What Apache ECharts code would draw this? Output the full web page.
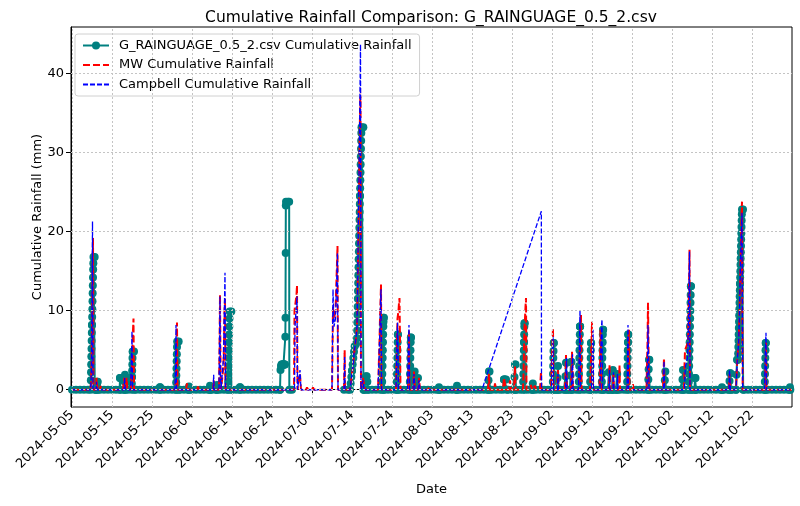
<!DOCTYPE html>
<html>
<head>
<meta charset="utf-8">
<script src="https://cdn.jsdelivr.net/npm/echarts@6/dist/echarts.min.js"></script>
<style>
  html, body { margin: 0; padding: 0; background: #fff; }
  #chart { width: 800px; height: 506px; }
</style>
</head>
<body>
<div id="chart"></div>
<script>
// tick labels
const dateTicks = ['2024-05-05', '2024-05-15', '2024-05-25', '2024-06-04', '2024-06-14', '2024-06-24',
  '2024-07-04', '2024-07-14', '2024-07-24', '2024-08-03', '2024-08-13', '2024-08-23',
  '2024-09-02', '2024-09-12', '2024-09-22', '2024-10-02', '2024-10-12', '2024-10-22'];
const yTicks = [0, 10, 20, 30, 40];

// gauge reading at 00:00 of each day (null = no data)
const gaugeMay = [0, 0, 0, 0, 0, 8.2, 0, 0, 0, 0, 0, 0, 1.5, 0, 0, 1.6, 0, 0, 0, 0, 0, 0, 0.3, 0, 0, 0, 0]; // from 05-05
const gaugeJun = [0, 0, 0, 0, 0, 0, 0, 0, 0, 0, 0, 0, 0, 0, 0, 0.3, 0, 0, 0, 0, 0, 0, 0, 0, 0, 0, 3.2, 23.8, 0, null];
const gaugeJul = [null, null, null, null, null, null, null, null, null, null, null, 0, 0, 2.4, 5.8, 24.5,
  0, 0, 0, 0, 0, 0, 0, 0, 0, 0, 0, 0, 0, 0, 0];
const gaugeAug = [0, 0, 0, 0, 0, 0, 0, 0, 0, 0, 0, 0, 0, 0, 0, 0, 0, 0, 0, 0, 1.3, 0, 0, 0, 0, 6, 0, 0, 0, 0, 0];
const gaugeSep = [0, 0, 0, 0, 0, 0, 0, 0, 8, 0, 0, 0, 0, 0, 0, 0, 0, 0, 0, 0, 6, 0, 0, 0, 0, 0, 0, 0, 0, 0];
const gaugeOct = [0, 0, 0, 0, 0, 0, 0, 0, 0, 0, 0, 0, 0, 0, 0, 0, 0, 0, 13.4, 0, 0, 0, 0, 0, 0, 0, 0, 0, 0, 0, 0];

// readings during events: [start 'MM-DD HH', step in hours, values]
const gaugeRuns = [
  ['05-09 16', 1, [0, 1.2, 2.2, 3.2, 4.2, 5.2, 6.2, 7.2, 8.2, 9.2, 10.2, 11.2, 12.2, 13.2, 14.2, 15.2, 16, 16.8]],
  ['05-10 16', 1, [16.8, 0]],
  ['05-11 04', 2, [0, 0.6, 1, 1, 0]],
  ['05-16 22', 2, [0, 1.5, 0]],
  ['05-18 02', 2, [0, 1, 1.9, 1.2, 0]],
  ['05-19 22', 1, [0, 0.8, 1.6, 2.4, 3.2, 4, 4.8, 4.85]],
  ['05-20 12', 1, [4.85, 0]],
  ['05-26 22', 2, [0, 0.3, 0]],
  ['05-31 00', 1, [0, 0.9, 1.8, 2.7, 3.6, 4.5, 5.4, 6.1]],
  ['05-31 16', 1, [6.1, 0]],
  ['06-03 04', 2, [0, 0.4, 0]],
  ['06-08 10', 2, [0, 0.5, 0]],
  ['06-10 04', 2, [0, 0.6, 0]],
  ['06-13 00', 1, [0, 1, 2, 3, 4, 5, 6, 7, 8, 9, 9.9]],
  ['06-13 20', 1, [9.9, 0]],
  ['06-15 22', 2, [0, 0.3, 0]],
  ['06-26 00', 3, [0, 2.5, 3, 3.2, 3.2, 3.2, 3.2, 3.2, 3.2, 3.2, 3.2]],
  ['06-27 08', 1, [6.7, 9.1, 17.3, 23.3, 23.8]],
  ['06-28 07', 1, [23.8, 0]],
  ['07-13 12', 4, [0, 0.8, 1.6, 2.4, 3.2, 4, 4.8, 5.5]],
  ['07-15 06', 1, [6.5, 7.5, 8.5, 9.5, 10.5, 11.5, 12.5, 13.5, 14.5, 15.5, 16.5, 17.5, 18.5, 19.5,
    20.5, 21.5, 22.5, 23.5, 24.5, 25.5, 26.5, 27.5, 28.5, 29.5, 30.5, 31.5, 32.5, 33.2]],
  ['07-16 20', 1, [33.2, 0]],
  ['07-17 04', 4, [0, 1, 1.7, 1.7, 1, 0]],
  ['07-21 12', 1, [0, 1, 2, 3, 4, 5, 6, 7, 8, 8.6, 9.1, 9.1, 0]],
  ['07-25 04', 1, [0, 1, 2, 3, 4, 5, 6, 7, 7, 0]],
  ['07-28 10', 1, [0, 1, 2, 3, 4, 5, 6, 6.6, 6.6, 0]],
  ['07-29 08', 4, [0, 1.5, 2.3, 0]],
  ['07-30 08', 4, [0, 1.5, 0]],
  ['08-04 16', 2, [0, 0.3, 0]],
  ['08-09 04', 2, [0, 0.5, 0]],
  ['08-17 00', 3, [0, 1.2, 2.3, 2.3, 0]],
  ['08-20 18', 6, [0, 1.3, 1.3, 1.3, 0]],
  ['08-23 12', 3, [0, 1.6, 3.2, 3.2, 0]],
  ['08-25 18', 1, [0, 1, 2, 3, 4, 5, 6, 7, 8, 8.4, 8.4, 0]],
  ['08-28 02', 3, [0, 0.8, 0]],
  ['09-02 04', 1, [0, 1, 2, 3, 4, 4.9, 5.9, 5.9, 0]],
  ['09-03 06', 3, [0, 1.5, 3, 0]],
  ['09-05 06', 3, [0, 1.7, 3.4, 3.4, 0]],
  ['09-06 12', 3, [0, 1.8, 3.5, 3.5, 0]],
  ['09-08 16', 1, [0, 1, 2, 3, 4, 5, 6, 7, 8, 8, 0]],
  ['09-11 12', 1, [0, 1, 2, 3, 4, 5, 5.9, 5.9, 0]],
  ['09-14 10', 1, [0, 1, 2, 3, 4, 5, 6, 7, 7.6, 7.6, 0]],
  ['09-16 02', 3, [0, 2.2, 0]],
  ['09-17 02', 3, [0, 2.5, 0]],
  ['09-18 04', 3, [0, 2, 0]],
  ['09-20 18', 1, [0, 1, 2, 3, 4, 5, 6, 7, 7, 0]],
  ['09-26 00', 2, [0, 1.3, 2.6, 3.8, 3.8, 0]],
  ['09-30 02', 3, [0, 1.2, 2.3, 0]],
  ['10-04 12', 3, [0, 1.3, 2.5, 0]],
  ['10-06 04', 1, [0, 1, 2, 3, 4, 5, 6, 7, 8, 9, 10, 11, 12, 13.1, 13.1, 0]],
  ['10-07 15', 3, [0, 1.5, 1.5, 0]],
  ['10-14 10', 2, [0, 0.3, 0]],
  ['10-16 06', 3, [0, 1.1, 2.1, 2.1, 0]],
  ['10-18 00', 3, [0, 1.9, 3.8, 3.8, 3.8]],
  ['10-18 13', 1, [4.6, 5.4, 6.2, 7, 7.8, 8.6, 9.4, 10.2, 11, 11.8, 12.6, 13.4, 14.2, 15, 15.8, 16.6,
    17.4, 18.2, 19, 19.8, 20.6, 21.4, 22.2, 22.8]],
  ['10-19 18', 1, [22.8, 0]],
  ['10-25 04', 1, [0, 1, 2, 3, 4, 5, 5.9, 5.9, 0]],
  ['10-31 10', 2, [0, 0.3, 0]]
];

const mwRuns = [
  ['05-05 00', 1, [0]],
  ['05-09 15', 3, [0, 1, 3, 8, 14, 19.2, 0]],
  ['05-11 00', 3, [0, 1.5, 1.5, 0]],
  ['05-12 00', 3, [0, 0.5, 0]],
  ['05-17 18', 4, [0, 1, 1.5, 0]],
  ['05-18 12', 4, [0, 1.5, 0]],
  ['05-19 18', 3, [0, 1.5, 3, 5, 7.5, 9, 0]],
  ['05-30 21', 3, [0, 2, 5, 8.5, 0]],
  ['06-02 12', 6, [0, 0.8, 0]],
  ['06-05 06', 6, [0, 0.4, 0]],
  ['06-09 06', 4, [0, 1.2, 0]],
  ['06-10 18', 3, [0, 5, 12, 3, 0]],
  ['06-11 18', 3, [0, 3, 6, 10, 11.5, 0]],
  ['06-29 12', 3, [0, 10, 10.5, 11, 11.5, 12, 13.2, 0]],
  ['06-30 21', 3, [0, 2, 2, 0]],
  ['07-02 12', 6, [0, 0.3, 0]],
  ['07-04 00', 6, [0, 0.3, 0]],
  ['07-05 12', 6, [0, 0.2, 0]],
  ['07-09 00', 3, [0, 5, 10.5, 10.5, 9, 9, 9, 10, 12, 14, 16, 18.2, 0]],
  ['07-12 00', 2, [0, 2.5, 5, 0]],
  ['07-13 12', 6, [0, 1, 2, 3, 4.5, 5.5, 6.5]],
  ['07-15 06', 3, [8, 12, 16, 20, 25, 30, 35, 38.2, 0]],
  ['07-16 12', 6, [0, 1.5, 1.5, 0]],
  ['07-20 12', 3, [0, 2, 4, 6, 9, 11, 13.3, 0]],
  ['07-25 00', 3, [0, 3, 6, 9, 9, 10, 11, 11.6, 11.6, 0]],
  ['07-28 00', 3, [0, 3, 7.5, 0]],
  ['07-29 06', 6, [0, 2.3, 0]],
  ['07-30 12', 6, [0, 1.5, 0]],
  ['08-02 00', 6, [0, 0.3, 0]],
  ['08-09 00', 6, [0, 0.3, 0]],
  ['08-17 00', 3, [0, 1, 2, 0]],
  ['08-18 12', 6, [0, 0.8, 0]],
  ['08-20 18', 6, [0, 1.5, 1.5, 0]],
  ['08-22 06', 6, [0, 1.2, 0]],
  ['08-23 12', 3, [0, 1.5, 3, 0]],
  ['08-25 18', 3, [0, 2, 5, 8, 9, 10.5, 11.6, 0]],
  ['08-27 12', 6, [0, 0.6, 0]],
  ['08-28 12', 6, [0, 0.5, 0]],
  ['08-30 00', 3, [0, 1.2, 2.3, 0]],
  ['09-01 18', 3, [0, 2, 4, 6, 7.8, 0]],
  ['09-03 06', 3, [0, 1.5, 2.5, 0]],
  ['09-05 06', 3, [0, 2, 4.4, 4.4, 0]],
  ['09-06 18', 3, [0, 2.5, 4.8, 4.8, 0]],
  ['09-08 18', 3, [0, 3, 6, 8, 9.5, 0]],
  ['09-11 12', 3, [0, 2, 4, 6, 8.6, 0]],
  ['09-13 21', 3, [0, 3, 7.6, 7.6, 0]],
  ['09-16 06', 3, [0, 3.2, 3.2, 0]],
  ['09-17 06', 3, [0, 2, 0]],
  ['09-18 18', 3, [0, 3.2, 0]],
  ['09-20 21', 3, [0, 3, 6, 7.6, 0]],
  ['09-22 03', 3, [0, 0.7, 0]],
  ['09-25 15', 3, [0, 3, 6, 11, 11, 0]],
  ['09-29 18', 3, [0, 2, 4, 0]],
  ['10-05 00', 3, [0, 3, 5, 5, 5, 5, 5, 5, 6, 9, 13, 17.7, 0]],
  ['10-16 06', 3, [0, 2, 2, 0]],
  ['10-18 00', 4, [0, 2, 4, 4, 6, 9, 13, 17, 21, 23.8, 0]],
  ['10-25 06', 3, [0, 3, 6, 0]],
  ['10-31 23', 1, [0]]
];

const campbellRuns = [
  ['05-05 00', 1, [0]],
  ['05-09 15', 3, [0, 1, 3, 10, 21.3, 0]],
  ['05-11 00', 3, [0, 1, 0]],
  ['05-18 00', 4, [0, 1.5, 0]],
  ['05-19 15', 3, [0, 2, 4, 7.4, 0]],
  ['05-30 18', 3, [0, 3, 8.2, 0]],
  ['06-09 07', 3, [0, 1.9, 0]],
  ['06-10 18', 3, [0, 6, 11.8, 2, 0]],
  ['06-11 18', 3, [0, 4, 8, 11, 14.8, 0]],
  ['06-29 15', 3, [0, 8, 9, 10, 11, 11.8, 0]],
  ['06-30 21', 3, [0, 2.5, 2.5, 0]],
  ['07-09 00', 3, [0, 6, 12.7, 12.7, 8, 8, 8, 9, 11, 13, 15, 17.3, 0]],
  ['07-12 00', 2, [0, 2, 4.2, 0]],
  ['07-13 12', 6, [0, 1, 2, 3, 4.5, 5.5, 6.5]],
  ['07-15 06', 3, [8, 12, 17, 22, 27, 32, 38, 43.7, 0]],
  ['07-16 12', 6, [0, 1.2, 0]],
  ['07-20 12', 3, [0, 2, 4, 6, 8, 11, 12.7, 0]],
  ['07-25 00', 3, [0, 3, 6, 8.5, 8.5, 0]],
  ['07-27 21', 3, [0, 3, 6, 8.2, 0]],
  ['07-29 06', 6, [0, 2, 0]],
  ['07-30 12', 6, [0, 1.2, 0]],
  ['08-15 12', 1, [0]],
  ['08-30 08', 1, [22.6, 0]],
  ['09-01 21', 3, [0, 3, 5, 6.7, 0]],
  ['09-03 09', 3, [0, 2, 0]],
  ['09-05 09', 3, [0, 2, 4, 0]],
  ['09-06 21', 3, [0, 2.5, 4.5, 0]],
  ['09-08 15', 3, [0, 3, 6, 10.1, 0]],
  ['09-11 21', 3, [0, 3, 5.5, 7.6, 0]],
  ['09-14 00', 3, [0, 3, 6, 8, 8.9, 0]],
  ['09-16 06', 3, [0, 2.5, 0]],
  ['09-17 06', 3, [0, 2.2, 0]],
  ['09-18 06', 3, [0, 2, 0]],
  ['09-20 18', 3, [0, 4, 8.2, 0]],
  ['09-25 18', 3, [0, 4, 8.2, 8.2, 0]],
  ['09-29 21', 3, [0, 3.6, 0]],
  ['10-05 03', 3, [0, 2, 3, 3, 3, 3, 4, 6, 9, 13, 17.5, 0]],
  ['10-16 06', 3, [0, 2.5, 2.5, 0]],
  ['10-18 00', 4, [0, 2, 3.8, 4, 6, 9, 13, 17, 20, 22.4, 0]],
  ['10-25 03', 3, [0, 3, 5.5, 7.2, 0]],
  ['10-31 23', 1, [0]]
];

function toTime(s) {
  return new Date(2024, +s.slice(0, 2) - 1, +s.slice(3, 5), +s.slice(6, 8)).getTime();
}

function expand(runs) {
  const pts = [];
  runs.forEach(([start, step, vals]) => {
    const t0 = toTime(start);
    vals.forEach((v, i) => pts.push([t0 + i * step * 3600000, v]));
  });
  return pts;
}

function daily(month, firstDay, vals) {
  return vals.map((v, i) => [new Date(2024, month - 1, firstDay + i).getTime(), v]);
}

const byTime = (a, b) => a[0] - b[0];

const gaugeData = [].concat(
  daily(5, 5, gaugeMay), daily(6, 1, gaugeJun), daily(7, 1, gaugeJul),
  daily(8, 1, gaugeAug), daily(9, 1, gaugeSep), daily(10, 1, gaugeOct),
  expand(gaugeRuns)
).sort(byTime);
const mwData = expand(mwRuns).sort(byTime);
const campbellData = expand(campbellRuns).sort(byTime);

const tickTimes = dateTicks.map(d => new Date(+d.slice(0, 4), +d.slice(5, 7) - 1, +d.slice(8, 10)).getTime());

const font = 'DejaVu Sans';

var chart = echarts.init(document.getElementById('chart'));
chart.setOption({
  animation: false,
  backgroundColor: '#fff',
  textStyle: { fontFamily: font },
  title: {
    text: 'Cumulative Rainfall Comparison: G_RAINGUAGE_0.5_2.csv',
    left: 426,
    top: 5,
    textAlign: 'center',
    textStyle: { fontFamily: font, fontSize: 15.5, fontWeight: 'normal', color: '#000' }
  },
  legend: {
    orient: 'vertical',
    left: 75,
    top: 34,
    padding: [5, 8, 5, 7],
    itemWidth: 26,
    itemHeight: 10,
    itemGap: 6.5,
    backgroundColor: 'rgba(255,255,255,0.8)',
    borderColor: '#d0d0d0',
    borderWidth: 1,
    borderRadius: 3,
    textStyle: { fontFamily: font, fontSize: 13, color: '#000', padding: [0, 0, 0, 5] },
    data: [
      { name: 'G_RAINGUAGE_0.5_2.csv Cumulative Rainfall' },
      { name: 'MW Cumulative Rainfall', itemStyle: { opacity: 0 } },
      { name: 'Campbell Cumulative Rainfall', itemStyle: { opacity: 0 } }
    ]
  },
  grid: {
    left: 71, right: 8, top: 27, bottom: 99,
    show: true, borderColor: '#000', borderWidth: 1, backgroundColor: 'transparent'
  },
  xAxis: {
    type: 'value',
    min: new Date(2024, 4, 4, 18).getTime(),
    max: new Date(2024, 10, 1).getTime(),
    name: 'Date',
    nameLocation: 'middle',
    nameGap: 76,
    nameTextStyle: { fontFamily: font, fontSize: 13, color: '#000' },
    axisLine: { lineStyle: { color: '#000' } },
    axisTick: { show: true, length: 5, lineStyle: { color: '#000' }, customValues: tickTimes },
    axisLabel: {
      customValues: tickTimes,
      rotate: 45,
      fontFamily: font,
      fontSize: 13,
      color: '#000',
      margin: 6,
      formatter: v => echarts.time.format(v, '{yyyy}-{MM}-{dd}', false)
    },
    splitLine: { show: false }
  },
  yAxis: {
    type: 'value',
    min: -2.185,
    max: 45.9,
    name: 'Cumulative Rainfall (mm)',
    nameLocation: 'middle',
    nameGap: 27,
    nameMoveOverlap: false,
    nameTextStyle: { fontFamily: font, fontSize: 13, color: '#000' },
    axisLine: { show: true, lineStyle: { color: '#000' } },
    axisTick: { show: true, length: 5, lineStyle: { color: '#000' }, customValues: yTicks },
    axisLabel: { customValues: yTicks, fontFamily: font, fontSize: 13, color: '#000', margin: 7 },
    splitLine: { show: false }
  },
  series: [
    {
      // grid lines at the tick positions, kept under the data
      name: 'grid',
      type: 'line',
      data: [],
      z: 1,
      markLine: {
        silent: true,
        animation: false,
        symbol: ['none', 'none'],
        label: { show: false },
        lineStyle: { color: '#c4c4c4', width: 1, type: [2, 2] },
        data: yTicks.map(v => ({ yAxis: v })).concat(tickTimes.map(t => ({ xAxis: t })))
      }
    },
    {
      name: 'G_RAINGUAGE_0.5_2.csv Cumulative Rainfall',
      type: 'line',
      data: gaugeData,
      z: 2,
      symbol: 'circle',
      symbolSize: 8,
      showSymbol: true,
      showAllSymbol: true,
      connectNulls: false,
      itemStyle: { color: '#008080' },
      lineStyle: { color: '#008080', width: 2 }
    },
    {
      name: 'MW Cumulative Rainfall',
      type: 'line',
      data: mwData,
      z: 3,
      symbol: 'none',
      itemStyle: { color: '#ff0000' },
      lineStyle: { color: '#ff0000', width: 2, type: [7, 3] }
    },
    {
      name: 'Campbell Cumulative Rainfall',
      type: 'line',
      data: campbellData,
      z: 4,
      symbol: 'none',
      itemStyle: { color: '#0000ff' },
      lineStyle: { color: '#0000ff', width: 1.3, type: [5, 2] }
    }
  ]
});
</script>
</body>
</html>
